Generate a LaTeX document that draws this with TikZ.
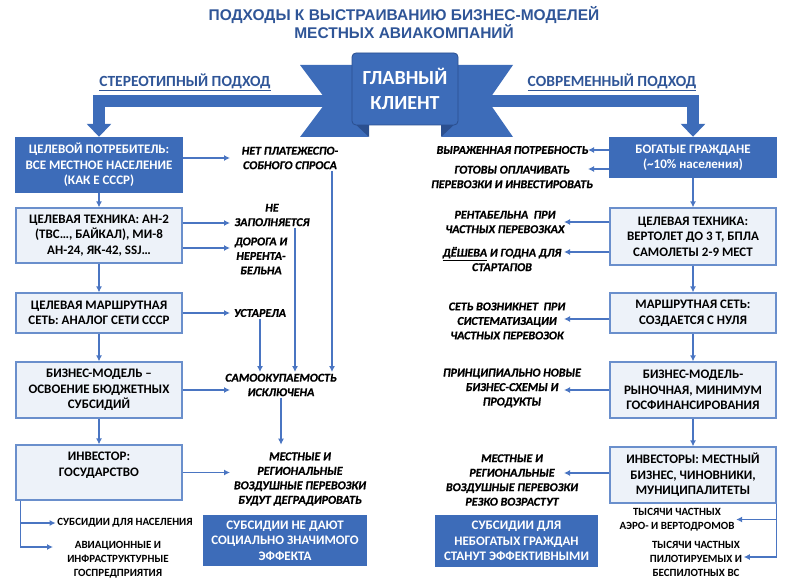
\documentclass[tikz,border=0pt]{standalone}
\usepackage{fontspec}
\setmainfont{Carlito}[BoldItalicFeatures={FakeBold=0.6}]
\newfontfamily\titlefont{Liberation Sans}
\usepackage{tikz}
\usetikzlibrary{shapes,positioning}
\usetikzlibrary{arrows.meta}
\usepackage{xcolor}
\definecolor{darkblue}{HTML}{3D6CB9}
\definecolor{arrowblue}{HTML}{4A75C2}
\definecolor{boxline}{HTML}{6A8FCC}
\definecolor{boxfill}{HTML}{EDF2F9}
\definecolor{titleblue}{HTML}{2F5597}
\definecolor{foldblue}{HTML}{2B4F8F}

\begin{document}
\begin{tikzpicture}[x=1pt,y=-1pt,line join=miter]
		\tikzstyle{dbox}=[rectangle, fill=darkblue, text=white, align=center, font=\bfseries\fontsize{13}{15.5}\selectfont, inner sep=2pt, minimum width=168]
		\tikzstyle{lbox}=[rectangle, draw=boxline, line width=1.2pt, fill=boxfill, align=center, font=\bfseries\fontsize{13}{15.5}\selectfont, inner sep=2pt, minimum width=166]
		\tikzstyle{note}=[align=center, font=\bfseries\itshape\fontsize{12}{14.5}\selectfont, inner sep=1.5pt]
		\tikzstyle{small}=[align=center, font=\bfseries\fontsize{11}{14}\selectfont, inner sep=1.5pt]
		\tikzstyle{arr}=[->, line width=1.3pt, draw=arrowblue]
		\tikzstyle{bigarr}=[-{Triangle[length=13pt,width=24pt]}, line width=12pt, draw=darkblue]
		\tikzset{>={Latex[length=6pt,width=6pt]}}
		\useasboundingbox (0,0) rectangle (800,583);
		% title
		\node[align=center, text=titleblue, font=\titlefont\bfseries\fontsize{15.5}{18}\selectfont] (title) at (404,23) {ПОДХОДЫ К ВЫСТРАИВАНИЮ БИЗНЕС-МОДЕЛЕЙ\\МЕСТНЫХ АВИАКОМПАНИЙ};
		\node[text=titleblue, font=\bfseries\fontsize{15.5}{16}\selectfont] (lhead) at (185,82) {\underline{СТЕРЕОТИПНЫЙ ПОДХОД}};
		\node[text=titleblue, font=\bfseries\fontsize{15.5}{16}\selectfont] (rhead) at (612,82) {\underline{СОВРЕМЕННЫЙ ПОДХОД}};
		% left column
		\node[dbox, minimum height=56] (lcons) at (99,165) {ЦЕЛЕВОЙ ПОТРЕБИТЕЛЬ:\\ВСЕ МЕСТНОЕ НАСЕЛЕНИЕ\\(КАК Е СССР)};
		\node[lbox, minimum height=55] (ltech) at (99,235.5) {ЦЕЛЕВАЯ ТЕХНИКА: АН-2\\(ТВС…, БАЙКАЛ), МИ-8\\АН-24, ЯК-42, SSJ…};
		\node[lbox, minimum height=40] (lnet) at (99,313) {ЦЕЛЕВАЯ МАРШРУТНАЯ\\СЕТЬ: АНАЛОГ СЕТИ СССР};
		\node[lbox, minimum height=56] (lbiz) at (99,390) {БИЗНЕС-МОДЕЛЬ –\\ОСВОЕНИЕ БЮДЖЕТНЫХ\\СУБСИДИЙ};
		\node[lbox, minimum height=55] (linv) at (99,472.5) {};
		\node[lbox, draw=none, fill=none] (linvt) at (99,465) {ИНВЕСТОР:\\ГОСУДАРСТВО};
		\path (lcons) edge[arr] (ltech);
		\path (ltech) edge[arr] (lnet);
		\path (lnet) edge[arr] (lbiz);
		\path (lbiz) edge[arr] (linv);
		% left notes
		\coordinate (lend) at (230,0);
		\node[note] (t1) at (290,158) {НЕТ ПЛАТЕЖЕСПО-\\СОБНОГО СПРОСА};
		\node[note] (t2) at (272,215) {НЕ\\ЗАПОЛНЯЕТСЯ};
		\node[note] (t3) at (261,256) {ДОРОГА И\\НЕРЕНТА-\\БЕЛЬНА};
		\node[note] (t4) at (260,313) {УСТАРЕЛА};
		\node[note] (t5) at (281,385) {САМООКУПАЕМОСТЬ\\ИСКЛЮЧЕНА};
		\node[note] (t6) at (300,479) {МЕСТНЫЕ И\\РЕГИОНАЛЬНЫЕ\\ВОЗДУШНЫЕ ПЕРЕВОЗКИ\\БУДУТ ДЕГРАДИРОВАТЬ};
		\node[dbox, minimum width=164, minimum height=51] (lsub) at (285,540.5) {СУБСИДИИ НЕ ДАЮТ\\СОЦИАЛЬНО ЗНАЧИМОГО\\ЭФФЕКТА};
		\node[small] (s1) at (125,523) {СУБСИДИИ ДЛЯ НАСЕЛЕНИЯ};
		\node[small] (s2) at (118,560) {АВИАЦИОННЫЕ И\\ИНФРАСТРУКТУРНЫЕ\\ГОСПРЕДПРИЯТИЯ};
		\coordinate (s2in) at (53,547);
		\draw[arr] ([yshift=7pt]lcons.east) -- ([yshift=7pt]lcons.east -| lend);
		\draw[arr] ([yshift=12.5pt]ltech.east) -- ([yshift=12.5pt]ltech.east -| lend);
		\draw[arr] ([yshift=-12.5pt]ltech.east) -- ([yshift=-12.5pt]ltech.east -| lend);
		\draw[arr] (lnet.east) -- (lnet.east -| lend);
		\draw[arr] (lbiz.east) -- (lbiz.east -| lend);
		\draw[arr] (linv.east) -- (linv.east -| lend);
		\draw[arr] (t4.south) -- (t4.south |- t5.north);
		\draw[arr] ([xshift=23pt]t2.south) -- ([xshift=23pt]t2.south |- t5.north);
		\draw[arr] ([xshift=42pt]t1.south) -- ([xshift=42pt]t1.south |- t5.north);
		\draw[arr] (t5.south) -- ([yshift=6pt]t5.south |- t6.north);
		\draw[arr] ([xshift=5pt]linv.south west) |- (s1.west);
		\draw[arr] ([xshift=5pt]linv.south west) |- (s2in);
		% right column
		\node[dbox, minimum height=41] (rcons) at (693,157.5) {БОГАТЫЕ ГРАЖДАНЕ\\(\textasciitilde 10\% населения)};
		\node[lbox, minimum height=57] (rtech) at (693,236.5) {ЦЕЛЕВАЯ ТЕХНИКА:\\ВЕРТОЛЕТ ДО 3 Т, БПЛА\\САМОЛЕТЫ 2-9 МЕСТ};
		\node[lbox, minimum height=40] (rnet) at (693,313) {МАРШРУТНАЯ СЕТЬ:\\СОЗДАЕТСЯ С НУЛЯ};
		\node[lbox, minimum height=56] (rbiz) at (693,390) {БИЗНЕС-МОДЕЛЬ-\\РЫНОЧНАЯ, МИНИМУМ\\ГОСФИНАНСИРОВАНИЯ};
		\node[lbox, minimum height=56] (rinv) at (693,475) {ИНВЕСТОРЫ: МЕСТНЫЙ\\БИЗНЕС, ЧИНОВНИКИ,\\МУНИЦИПАЛИТЕТЫ};
		\path (rcons) edge[arr] (rtech);
		\path (rtech) edge[arr] (rnet);
		\path (rnet) edge[arr] (rbiz);
		\path (rbiz) edge[arr] (rinv);
		% right notes
		\coordinate (rend) at (564,0);
		\coordinate (rend2) at (588,0);
		\node[note, anchor=east] (u1) at (590,150) {ВЫРАЖЕННАЯ ПОТРЕБНОСТЬ};
		\node[note] (u2) at (512,177) {ГОТОВЫ ОПЛАЧИВАТЬ\\ПЕРЕВОЗКИ И ИНВЕСТИРОВАТЬ};
		\node[note] (u3) at (505,222) {РЕНТАБЕЛЬНА\ \ ПРИ\\ЧАСТНЫХ ПЕРЕВОЗКАХ};
		\node[note] (u4) at (502,259) {\underline{ДЁШЕВА} И ГОДНА ДЛЯ\\СТАРТАПОВ};
		\node[note] (u5) at (507,321) {СЕТЬ ВОЗНИКНЕТ\ \ ПРИ\\СИСТЕМАТИЗАЦИИ\\ЧАСТНЫХ ПЕРЕВОЗОК};
		\node[note] (u6) at (512,388) {ПРИНЦИПИАЛЬНО НОВЫЕ\\БИЗНЕС-СХЕМЫ И\\ПРОДУКТЫ};
		\node[note] (u7) at (512,480) {МЕСТНЫЕ И\\РЕГИОНАЛЬНЫЕ\\ВОЗДУШНЫЕ ПЕРЕВОЗКИ\\РЕЗКО ВОЗРАСТУТ};
		\node[dbox, minimum width=163, minimum height=52] (rsub) at (516.5,541) {СУБСИДИИ ДЛЯ\\НЕБОГАТЫХ ГРАЖДАН\\СТАНУТ ЭФФЕКТИВНЫМИ};
		\node[small] (v1) at (677,519.5) {ТЫСЯЧИ ЧАСТНЫХ\\АЭРО- И ВЕРТОДРОМОВ};
		\node[small] (v2) at (696,558.5) {ТЫСЯЧИ ЧАСТНЫХ\\ПИЛОТИРУЕМЫХ И\\БЕСПИЛОТНЫХ ВС};
		\draw[arr] ([yshift=7.5pt]rcons.west) -- ([yshift=7.5pt]rcons.west -| rend2);
		\draw[arr] ([yshift=-11.5pt]rcons.west) -- ([yshift=-11.5pt]rcons.west -| rend2);
		\draw[arr] ([yshift=14.5pt]rtech.west) -- ([yshift=14.5pt]rtech.west -| rend);
		\draw[arr] ([yshift=-15.5pt]rtech.west) -- ([yshift=-15.5pt]rtech.west -| rend);
		\draw[arr] ([yshift=-6pt]rnet.west) -- ([yshift=-6pt]rnet.west -| rend);
		\draw[arr] (rbiz.west) -- (rbiz.west -| rend);
		\draw[arr] ([yshift=2pt]rinv.west) -- ([yshift=2pt]rinv.west -| rend);
		\draw[arr] (rinv.south east) |- (v1.east);
		\draw[arr] (rinv.south east) |- ([yshift=1.5pt]v2.east);
		% banner
		\coordinate (lwing) at (330,101);
		\coordinate (rwing) at (485,101);
		\draw[bigarr] (lwing) -| (lcons.north);
		\draw[bigarr] (rwing) -| (rcons.north);
		\fill[darkblue] (300,65) -- (368,65) -- (368,137) -- (300,137) -- (327,101) -- cycle;
		\fill[darkblue] (513,65) -- (442,65) -- (442,137) -- (513,137) -- (488,101) -- cycle;
		\fill[foldblue] (352,121) -- (369,137) -- (369,121) -- cycle;
		\fill[foldblue] (458,121) -- (441,137) -- (441,121) -- cycle;
		\node[rectangle, rounded corners=4pt, fill=darkblue, draw=foldblue, line width=0.8pt, minimum width=106, minimum height=72, text=white, align=center, font=\bfseries\fontsize{20}{25}\selectfont] (main) at (405,89) {ГЛАВНЫЙ\\КЛИЕНТ};
	\end{tikzpicture}
\end{document}
